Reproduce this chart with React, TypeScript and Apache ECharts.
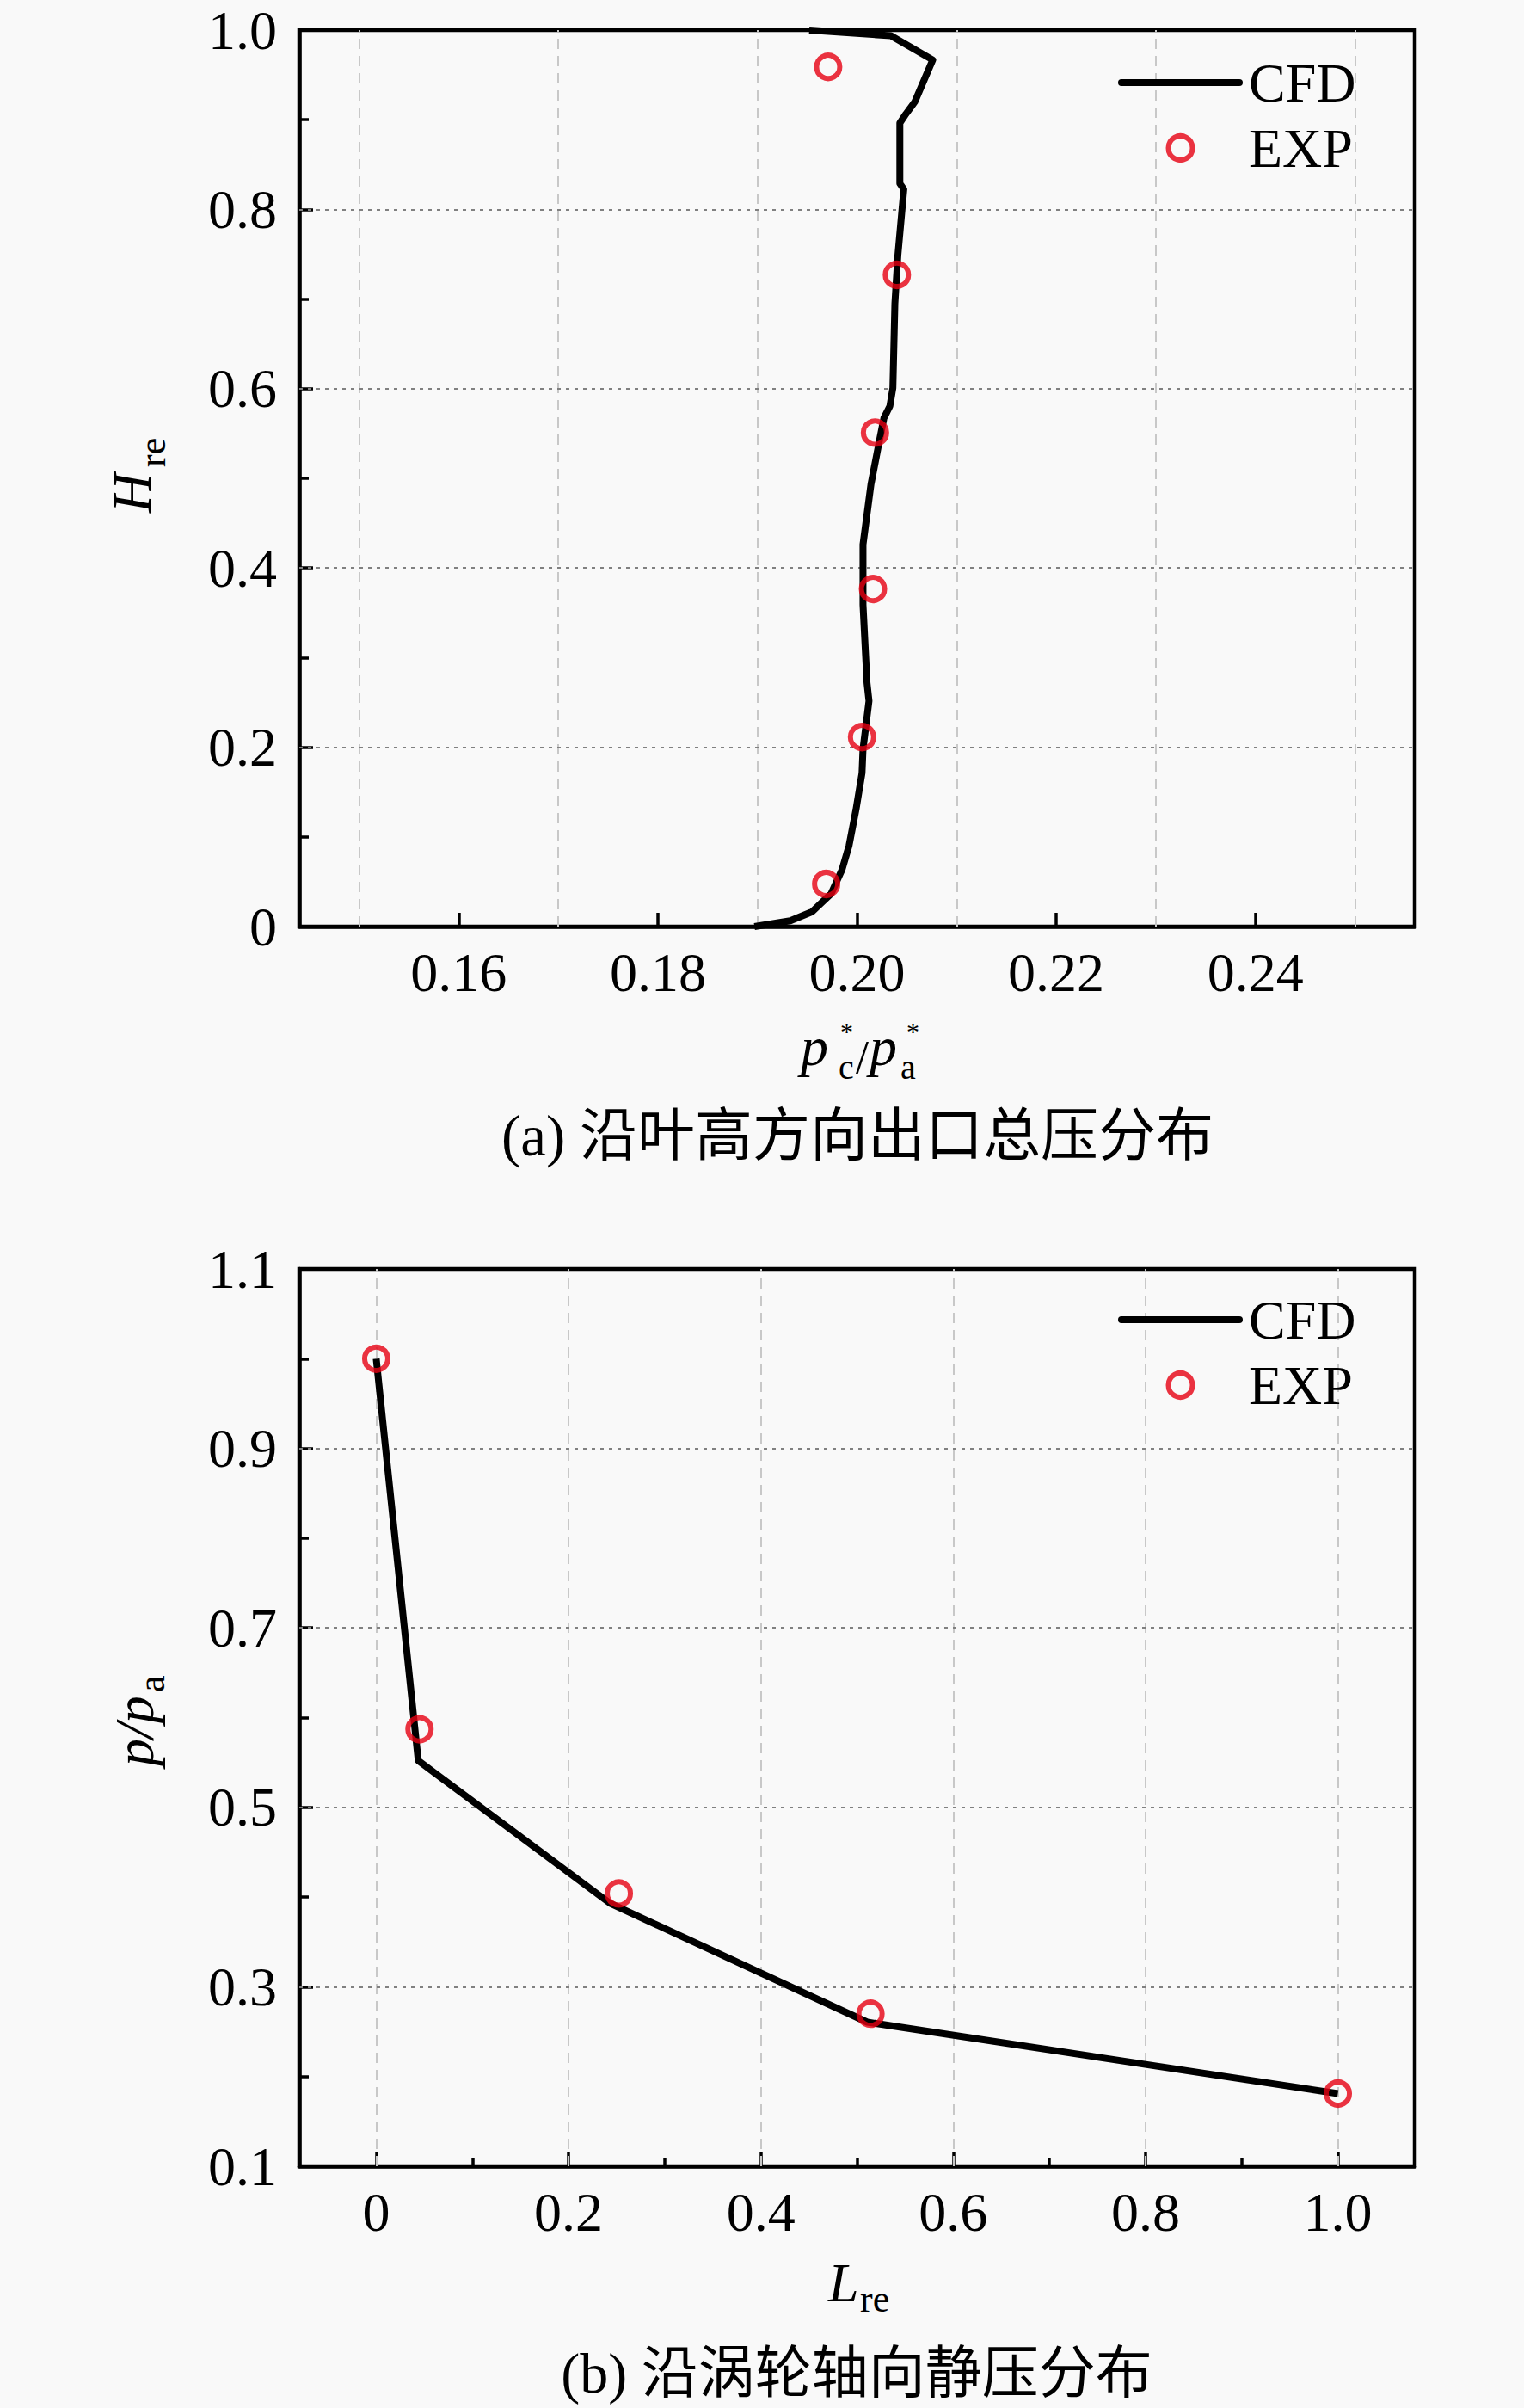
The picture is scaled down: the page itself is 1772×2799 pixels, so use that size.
import React, { useEffect, useRef } from "react";
import * as echarts from "echarts";

// ---------- data: (a) total pressure along blade height ----------
const topCfdP = [0.1897, 0.1933, 0.1955, 0.1974, 0.1985, 0.1992, 0.1999, 0.2005, 0.2006, 0.2012, 0.2010, 0.2006, 0.2006, 0.2014, 0.2021, 0.2027, 0.2033, 0.2036, 0.2038, 0.2041, 0.2047, 0.2043, 0.2043, 0.2049, 0.2058, 0.2076, 0.2034, 0.1952];
const topCfdH = [0.0, 0.0065, 0.0166, 0.0367, 0.0636, 0.0904, 0.1307, 0.1711, 0.1979, 0.2517, 0.2718, 0.359, 0.4262, 0.4934, 0.5337, 0.5673, 0.5807, 0.6008, 0.6948, 0.7486, 0.8225, 0.829, 0.8963, 0.9064, 0.92, 0.9668, 0.9937, 1.0];
const topExpP = [0.1969, 0.2005, 0.2016, 0.2018, 0.2040, 0.1971];
const topExpH = [0.0475, 0.2114, 0.3766, 0.551, 0.727, 0.959];

// ---------- data: (b) static pressure along turbine axis ----------
const botCfdL = [0, 0.0437, 0.2432, 0.5106, 1.0];
const botCfdP = [1.0, 0.552, 0.393, 0.2606, 0.181];
const botExpL = [0, 0.045, 0.2523, 0.514, 1.0];
const botExpP = [1.0, 0.587, 0.404, 0.27, 0.181];

// ---------- ticks / grid values ----------
const topXTicks = [0.16, 0.18, 0.2, 0.22, 0.24];
const topXGrid = [0.15, 0.17, 0.19, 0.21, 0.23, 0.25];
const topYGrid = [0.2, 0.4, 0.6, 0.8];
const botXTicks = [0, 0.2, 0.4, 0.6, 0.8, 1.0];
const botXMinor = [0.1, 0.3, 0.5, 0.7, 0.9];
const botYTicks = [0.1, 0.3, 0.5, 0.7, 0.9, 1.1];
const botYMinor = [0.2, 0.4, 0.6, 0.8, 1.0];
const botXGrid = [0, 0.2, 0.4, 0.6, 0.8, 1.0];
const botYGrid = [0.3, 0.5, 0.7, 0.9];

const BG = "#f9f9f9";
const FONT = "'Liberation Serif', 'Times New Roman', serif";
const CJK = "'Liberation Serif', 'Noto Sans CJK SC', serif";
const RED = "#e60012";

const zip = (a: number[], b: number[]) => a.map((v, i) => [v, b[i]]);

const axisLineStyle = { show: true, onZero: false, lineStyle: { color: "#000", width: 4.5 } };
const labelStyle = { color: "#000", fontSize: 64, fontFamily: FONT, lineHeight: 50 };

const vGrid = (vals: number[]) =>
  vals.map((v) => ({ xAxis: v, lineStyle: { color: "#c8c8c8", type: [12, 8], width: 2 } }));
const hGrid = (vals: number[]) =>
  vals.map((v) => ({ yAxis: v, lineStyle: { color: "#808080", type: [4, 6], width: 2 } }));

const gridMark = (data: any[]) => ({
  silent: true,
  symbol: ["none", "none"],
  z: 1,
  label: { show: false },
  emphasis: { disabled: true },
  lineStyle: { color: "#bbb", width: 2 },
  data,
});

const txt = (
  text: string,
  x: number,
  y: number,
  size: number,
  italic = false,
  align = "left",
  family = FONT,
  lineHeight?: number
) => ({
  type: "text",
  x,
  y,
  silent: true,
  style: {
    text,
    fill: "#000",
    fontSize: size,
    fontFamily: family,
    fontStyle: italic ? "italic" : "normal",
    align,
    verticalAlign: "middle",
    lineHeight: lineHeight ?? Math.round(size * 0.9),
  },
});

export default function App() {
  const ref = useRef<HTMLDivElement>(null);

  useEffect(() => {
    if (!ref.current) return;
    const chart = echarts.init(ref.current, null, { renderer: "svg", width: 1772, height: 2799 });

    const legendData = [
      { name: "CFD", itemStyle: { opacity: 0 } },
      { name: "EXP" },
    ];

    const legendBase = {
      orient: "vertical",
      left: 1300,
      data: legendData,
      itemWidth: 137,
      itemHeight: 28,
      itemGap: 12,
      padding: 0,
      selectedMode: false,
      textStyle: { color: "#000", fontSize: 64, fontFamily: FONT, lineHeight: 64, padding: [0, 0, 0, 6] },
      lineStyle: { width: 8, cap: "round" },
      itemStyle: { borderWidth: 6 },
    };

    const scatterStyle = { color: "rgba(255,255,255,0)", borderColor: RED, borderWidth: 6 };

    const option: any = {
      animation: false,
      backgroundColor: BG,
      textStyle: { fontFamily: FONT },
      grid: [
        { left: 348, top: 35, width: 1297, height: 1042, show: true, borderColor: "#000", borderWidth: 4.5, backgroundColor: "transparent" },
        { left: 348, top: 1475, width: 1297, height: 1043, show: true, borderColor: "#000", borderWidth: 4.5, backgroundColor: "transparent" },
      ],
      xAxis: [
        {
          type: "value", gridIndex: 0, position: "bottom", min: 0.144, max: 0.256,
          axisLine: axisLineStyle,
          axisTick: { show: true, inside: true, length: 16, customValues: topXTicks, lineStyle: { color: "#000", width: 3.5 } },
          axisLabel: { ...labelStyle, margin: 28, customValues: topXTicks, formatter: (v: number) => v.toFixed(2) },
          splitLine: { show: false },
        },
        {
          type: "value", gridIndex: 1, position: "bottom", min: -0.08, max: 1.08,
          axisLine: axisLineStyle,
          axisTick: { show: true, inside: true, length: 16, customValues: botXTicks, lineStyle: { color: "#000", width: 3.5 } },
          axisLabel: { ...labelStyle, margin: 28, customValues: botXTicks, formatter: (v: number) => (v === 0 ? "0" : v.toFixed(1)) },
          splitLine: { show: false },
        },
        {
          type: "value", gridIndex: 1, position: "bottom", min: -0.08, max: 1.08,
          axisLine: { show: false, onZero: false },
          axisTick: { show: true, inside: true, length: 10, customValues: botXMinor, lineStyle: { color: "#000", width: 3.5 } },
          axisLabel: { show: false },
          splitLine: { show: false },
        },
      ],
      yAxis: [
        {
          type: "value", gridIndex: 0, position: "left", min: 0, max: 1, interval: 0.2,
          axisLine: axisLineStyle,
          axisTick: { show: true, inside: true, length: 16, lineStyle: { color: "#000", width: 3.5 } },
          minorTick: { show: true, splitNumber: 2, length: 11, lineStyle: { color: "#000", width: 3.5 } },
          axisLabel: { ...labelStyle, margin: 26, formatter: (v: number) => (v === 0 ? "0" : v.toFixed(1)) },
          splitLine: { show: false },
        },
        {
          type: "value", gridIndex: 1, position: "left", min: 0.1, max: 1.1,
          axisLine: axisLineStyle,
          axisTick: { show: true, inside: true, length: 16, customValues: botYTicks, lineStyle: { color: "#000", width: 3.5 } },
          axisLabel: { ...labelStyle, margin: 26, customValues: botYTicks, formatter: (v: number) => v.toFixed(1) },
          splitLine: { show: false },
        },
        {
          type: "value", gridIndex: 1, position: "left", min: 0.1, max: 1.1,
          axisLine: { show: false, onZero: false },
          axisTick: { show: true, inside: true, length: 11, customValues: botYMinor, lineStyle: { color: "#000", width: 3.5 } },
          axisLabel: { show: false },
          splitLine: { show: false },
        },
      ],
      legend: [
        { ...legendBase, top: 64 },
        { ...legendBase, top: 1502 },
      ],
      series: [
        {
          name: "CFD", type: "line", xAxisIndex: 0, yAxisIndex: 0, data: zip(topCfdP, topCfdH),
          symbol: "none", z: 3, lineStyle: { color: "#000", width: 8, join: "round" }, itemStyle: { color: "#000" },
          markLine: gridMark([...vGrid(topXGrid), ...hGrid(topYGrid)]),
        },
        {
          name: "EXP", type: "scatter", xAxisIndex: 0, yAxisIndex: 0, data: zip(topExpP, topExpH),
          symbol: "circle", symbolSize: 27, z: 4, itemStyle: scatterStyle,
        },
        {
          name: "CFD", type: "line", xAxisIndex: 1, yAxisIndex: 1, data: zip(botCfdL, botCfdP),
          symbol: "none", z: 3, lineStyle: { color: "#000", width: 8, join: "round" }, itemStyle: { color: "#000" },
          markLine: gridMark([...vGrid(botXGrid), ...hGrid(botYGrid)]),
        },
        {
          name: "EXP", type: "scatter", xAxisIndex: 1, yAxisIndex: 1, data: zip(botExpL, botExpP),
          symbol: "circle", symbolSize: 27, z: 4, itemStyle: scatterStyle,
        },
      ],
      graphic: [
        // (a) x title  p_c* / p_a*
        txt("p", 931, 1216, 64, true, "left", FONT, 64),
        txt("c", 975, 1240, 40, false, "left", FONT, 40),
        txt("*", 977, 1198, 30, false, "left", FONT, 30),
        txt("/", 995, 1229, 54, false, "left", FONT, 54),
        txt("p", 1011, 1216, 64, true, "left", FONT, 64),
        txt("a", 1047, 1240, 40, false, "left", FONT, 40),
        txt("*", 1054, 1198, 30, false, "left", FONT, 30),
        // (a) y title H_re
        {
          type: "group", x: 160, y: 566, rotation: Math.PI / 2,
          children: [txt("H", -30, -7, 64, true), txt("re", 23, 17, 44)],
        },
        // (a) caption
        txt("(a) 沿叶高方向出口总压分布", 997, 1320, 67, false, "center", CJK),
        // (b) y title p/p_a
        {
          type: "group", x: 160, y: 1996, rotation: Math.PI / 2,
          children: [txt("p/p", -57, -4, 64, true), txt("a", 29, 16, 44)],
        },
        // (b) x title L_re
        txt("L", 963, 2653, 64, true),
        txt("re", 1000, 2672, 44),
        // (b) caption
        txt("(b) 沿涡轮轴向静压分布", 996, 2758, 66, false, "center", CJK),
      ],
    };

    chart.setOption(option);
    return () => chart.dispose();
  }, []);

  return (
    <div
      ref={ref}
      style={{ position: "absolute", left: 0, top: 0, width: 1772, height: 2799, background: BG }}
    />
  );
}
